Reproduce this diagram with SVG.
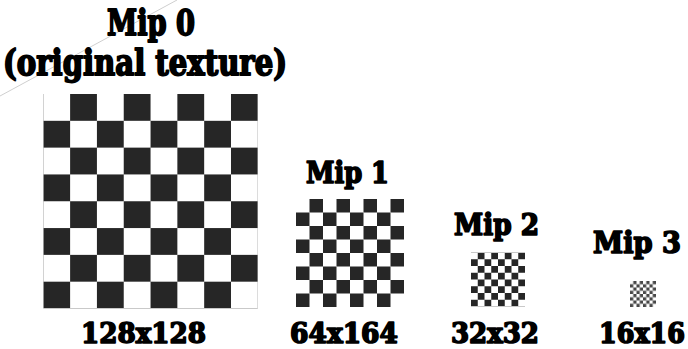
<svg xmlns="http://www.w3.org/2000/svg" width="688" height="349" viewBox="0 0 688 349">
<style>
.t{font-family:"DejaVu Serif Condensed","DejaVu Serif","Liberation Serif",serif;font-weight:bold;fill:#000;stroke:#000;stroke-linejoin:round;text-anchor:middle}
.big{font-size:35px;stroke-width:1.8px}
.mid{font-size:29px;stroke-width:1.6px}
.dim{font-size:27px;stroke-width:1.5px}
</style>
<defs>
<pattern id="chk" patternUnits="objectBoundingBox" width="0.25" height="0.25" patternContentUnits="objectBoundingBox">
<rect x="0.125" y="0" width="0.125" height="0.125" fill="#262626"/>
<rect x="0" y="0.125" width="0.125" height="0.125" fill="#262626"/>
</pattern>
</defs>
<rect width="688" height="349" fill="#fff"/>
<line x1="0" y1="96" x2="177" y2="0" stroke="#cfcfcf" stroke-width="1"/>
<g id="mip0">
<text class="t big" x="151" y="35" textLength="88" lengthAdjust="spacingAndGlyphs">Mip 0</text>
<text class="t big" x="145" y="75" textLength="284" lengthAdjust="spacingAndGlyphs">(original texture)</text>
<rect x="43.3" y="94" width="214.5" height="214.5" fill="url(#chk)"/>
<text class="t dim" x="143.5" y="343" textLength="125" lengthAdjust="spacingAndGlyphs">128x128</text>
</g>
<g id="mip1">
<text class="t mid" x="347.5" y="183" textLength="83" lengthAdjust="spacingAndGlyphs">Mip 1</text>
<rect x="296" y="199" width="108" height="108" fill="url(#chk)"/>
<text class="t dim" x="344" y="343" textLength="108" lengthAdjust="spacingAndGlyphs">64x164</text>
</g>
<g id="mip2">
<text class="t mid" x="496.5" y="235" textLength="85" lengthAdjust="spacingAndGlyphs">Mip 2</text>
<rect x="471" y="252.5" width="54" height="54" fill="url(#chk)"/>
<text class="t dim" x="495" y="343" textLength="88" lengthAdjust="spacingAndGlyphs">32x32</text>
</g>
<g id="mip3">
<text class="t mid" x="637" y="253" textLength="88" lengthAdjust="spacingAndGlyphs">Mip 3</text>
<rect x="630" y="281" width="26" height="26" fill="url(#chk)" opacity="0.85"/>
<text class="t dim" x="642" y="343" textLength="86" lengthAdjust="spacingAndGlyphs">16x16</text>
</g>
<g id="connectors"></g>
</svg>
